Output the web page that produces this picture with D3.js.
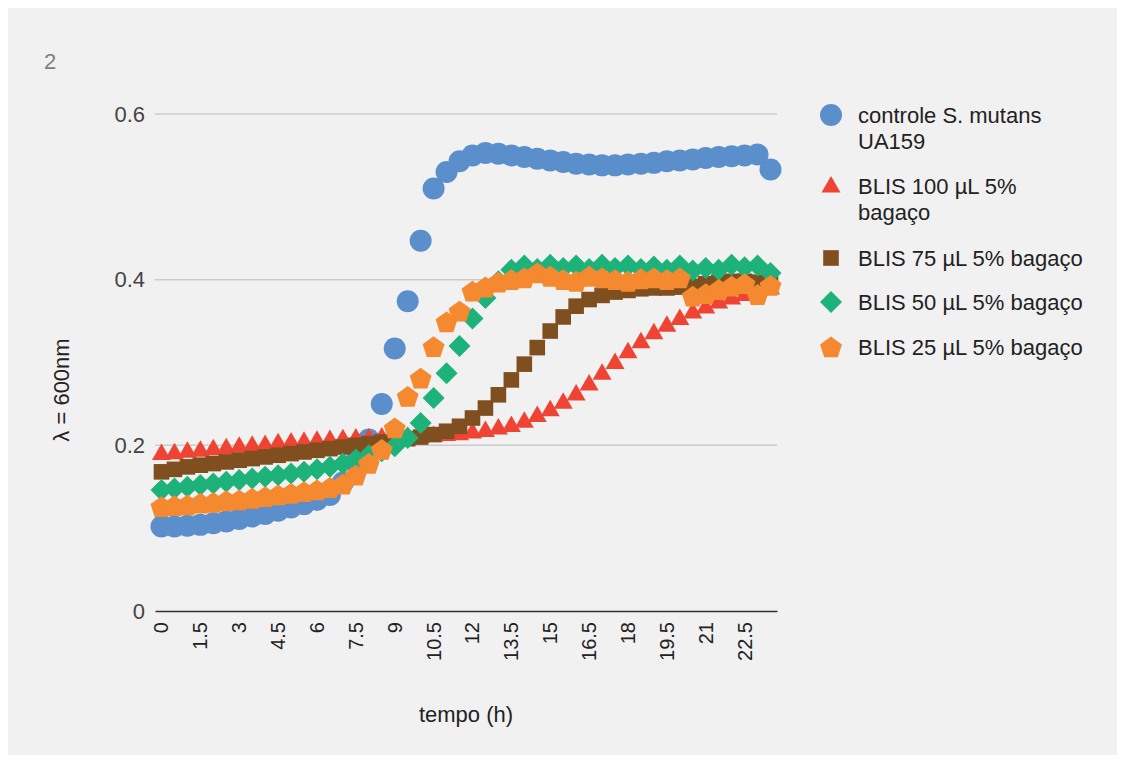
<!DOCTYPE html>
<html>
<head>
<meta charset="utf-8">
<script src="https://cdn.jsdelivr.net/npm/d3@7"></script>
<style>
  body { margin: 0; background: #fff; }
  text { font-family: "Liberation Sans", Arial, sans-serif; }
</style>
</head>
<body>
<svg width="1125" height="760"></svg>
<script>
// time categories (h)
const times = ["0","0.5","1","1.5","2","2.5","3","3.5","4","4.5","5","5.5","6","6.5","7","7.5",
  "8","8.5","9","9.5","10","10.5","11","11.5","12","12.5","13","13.5","14","14.5","15","15.5",
  "16","16.5","17","17.5","18","18.5","19","19.5","20","20.5","21","21.5","22","22.5","23","23.5"];
const xTickLabels = ["0","1.5","3","4.5","6","7.5","9","10.5","12","13.5","15","16.5","18","19.5","21","22.5"];
const yTicks = [0, 0.2, 0.4, 0.6];

const controle = [0.102,0.102,0.103,0.104,0.106,0.108,0.111,0.114,0.117,0.121,0.125,0.129,0.134,0.140,0.155,0.180,
  0.207,0.250,0.317,0.374,0.447,0.510,0.530,0.543,0.550,0.553,0.552,0.550,0.548,0.546,0.544,0.542,
  0.540,0.539,0.538,0.538,0.539,0.540,0.541,0.543,0.544,0.545,0.547,0.548,0.549,0.550,0.551,0.533];
const blis100 = [0.190,0.191,0.193,0.194,0.196,0.197,0.199,0.200,0.201,0.203,0.204,0.205,0.206,0.207,0.208,0.209,
  0.209,0.210,0.210,0.211,0.211,0.212,0.213,0.214,0.216,0.218,0.221,0.224,0.229,0.236,0.243,0.252,
  0.262,0.274,0.287,0.300,0.313,0.325,0.336,0.345,0.353,0.361,0.367,0.373,0.378,0.382,0.386,0.390];
const blis75 = [0.168,0.171,0.174,0.176,0.178,0.180,0.182,0.184,0.186,0.188,0.190,0.192,0.194,0.196,0.198,0.200,
  0.202,0.204,0.206,0.208,0.210,0.213,0.217,0.223,0.233,0.245,0.261,0.279,0.298,0.318,0.338,0.355,
  0.368,0.376,0.381,0.385,0.387,0.389,0.390,0.390,0.391,0.392,0.395,0.397,0.398,0.398,0.397,0.396];
const blis50 = [0.146,0.148,0.150,0.152,0.154,0.156,0.158,0.160,0.162,0.164,0.166,0.168,0.171,0.174,0.178,0.183,
  0.188,0.193,0.199,0.209,0.227,0.257,0.287,0.320,0.353,0.378,0.398,0.412,0.417,0.413,0.418,0.414,
  0.417,0.413,0.418,0.414,0.417,0.413,0.416,0.412,0.417,0.411,0.414,0.412,0.418,0.415,0.417,0.408];
const blis25 = [0.126,0.127,0.128,0.130,0.131,0.133,0.134,0.136,0.138,0.140,0.142,0.144,0.146,0.149,0.153,0.164,
  0.178,0.195,0.221,0.259,0.281,0.319,0.349,0.362,0.386,0.391,0.397,0.400,0.402,0.408,0.404,0.400,
  0.398,0.404,0.402,0.400,0.398,0.401,0.402,0.400,0.402,0.380,0.383,0.388,0.392,0.395,0.382,0.393];

const seriesNames = [["controle S. mutans", "UA159"], ["BLIS 100 µL 5%", "bagaço"],
  ["BLIS 75 µL 5% bagaço"], ["BLIS 50 µL 5% bagaço"], ["BLIS 25 µL 5% bagaço"]];
const seriesValues = [controle, blis100, blis75, blis50, blis25];
const seriesColors = ["#5b8fcc", "#ef4433", "#7f4f1f", "#1db27a", "#f5892f"];
const seriesShapes = ["circle", "triangle", "square", "diamond", "pentagon"];

const svg = d3.select("svg");
const margin = { top: 114, left: 155, right: 777, bottom: 611 };
const fontSize = 22;

svg.append("rect").attr("x", 8).attr("y", 8).attr("width", 1109).attr("height", 747).attr("fill", "#f1f1f1");

svg.append("text").attr("x", 44).attr("y", 69).attr("font-size", 22).attr("fill", "#808080").text("2");

const x = d3.scaleBand().domain(times).range([margin.left, margin.right]);
const y = d3.scaleLinear().domain([0, 0.6]).range([margin.bottom, margin.top]);

// marker paths drawn around (0,0)
function shapePath(shape, s) {
  const p = d3.path();
  if (shape === "circle") {
    p.arc(0, 0, 11 * s, 0, 2 * Math.PI);
  } else if (shape === "triangle") {
    const w = 9.5 * s;
    p.moveTo(0, -10 * s); p.lineTo(w, 6.5 * s); p.lineTo(-w, 6.5 * s);
  } else if (shape === "square") {
    const h = 7.8 * s;
    p.rect(-h, -h, 2 * h, 2 * h);
  } else if (shape === "diamond") {
    const h = 11 * s;
    p.moveTo(0, -h); p.lineTo(h, 0); p.lineTo(0, h); p.lineTo(-h, 0);
  } else {
    const r = 11.5 * s;
    for (let k = 0; k < 5; k++) {
      const a = -Math.PI / 2 + k * 2 * Math.PI / 5;
      if (k === 0) p.moveTo(r * Math.cos(a), r * Math.sin(a) + 1);
      else p.lineTo(r * Math.cos(a), r * Math.sin(a) + 1);
    }
  }
  p.closePath();
  return p.toString();
}

// gridlines
svg.append("g").selectAll("line")
  .data(yTicks.filter(d => d > 0))
  .join("line")
  .attr("x1", margin.left).attr("x2", margin.right)
  .attr("y1", d => y(d)).attr("y2", d => y(d))
  .attr("stroke", "#cccccc").attr("stroke-width", 1.5);

// y labels
svg.append("g").selectAll("text")
  .data(yTicks)
  .join("text")
  .attr("x", 145).attr("y", d => y(d)).attr("dy", "0.35em")
  .attr("text-anchor", "end").attr("font-size", fontSize).attr("fill", "#444")
  .text(d => d === 0 ? "0" : d3.format(".1f")(d));

// series
seriesValues.forEach((vals, i) => {
  svg.append("g").selectAll("path")
    .data(vals)
    .join("path")
    .attr("transform", (d, j) => `translate(${x(times[j]) + x.bandwidth() / 2},${y(d)})`)
    .attr("d", shapePath(seriesShapes[i], 1))
    .attr("fill", seriesColors[i]);
});

// x axis
const xAxis = svg.append("g")
  .attr("transform", `translate(0,${margin.bottom})`)
  .call(d3.axisBottom(x).tickValues(xTickLabels).tickSize(0));
xAxis.select(".domain").attr("stroke", "#333").attr("stroke-width", 1.5);
xAxis.selectAll("text")
  .attr("transform", "rotate(-90)")
  .attr("x", -11).attr("y", 0).attr("dy", "0.35em")
  .attr("text-anchor", "end")
  .attr("font-size", 20).attr("fill", "#222")
  .attr("font-family", "Liberation Sans, Arial, sans-serif");

// axis titles
svg.append("text").attr("x", 466).attr("y", 722).attr("text-anchor", "middle")
  .attr("font-size", fontSize).attr("fill", "#222").text("tempo (h)");
svg.append("text").attr("transform", "translate(69,390) rotate(-90)").attr("text-anchor", "middle")
  .attr("font-size", fontSize).attr("fill", "#222").text("λ = 600nm");

// legend
const legendRows = [115, 186, 258, 302, 347];
seriesNames.forEach((lines, i) => {
  const g = svg.append("g").attr("transform", `translate(831,${legendRows[i]})`);
  g.append("path").attr("d", shapePath(seriesShapes[i], 1)).attr("fill", seriesColors[i]);
  lines.forEach((t, k) => {
    g.append("text").attr("x", 27).attr("y", k * 26).attr("dy", "0.35em")
      .attr("font-size", fontSize).attr("fill", "#222").text(t);
  });
});
</script>
</body>
</html>
